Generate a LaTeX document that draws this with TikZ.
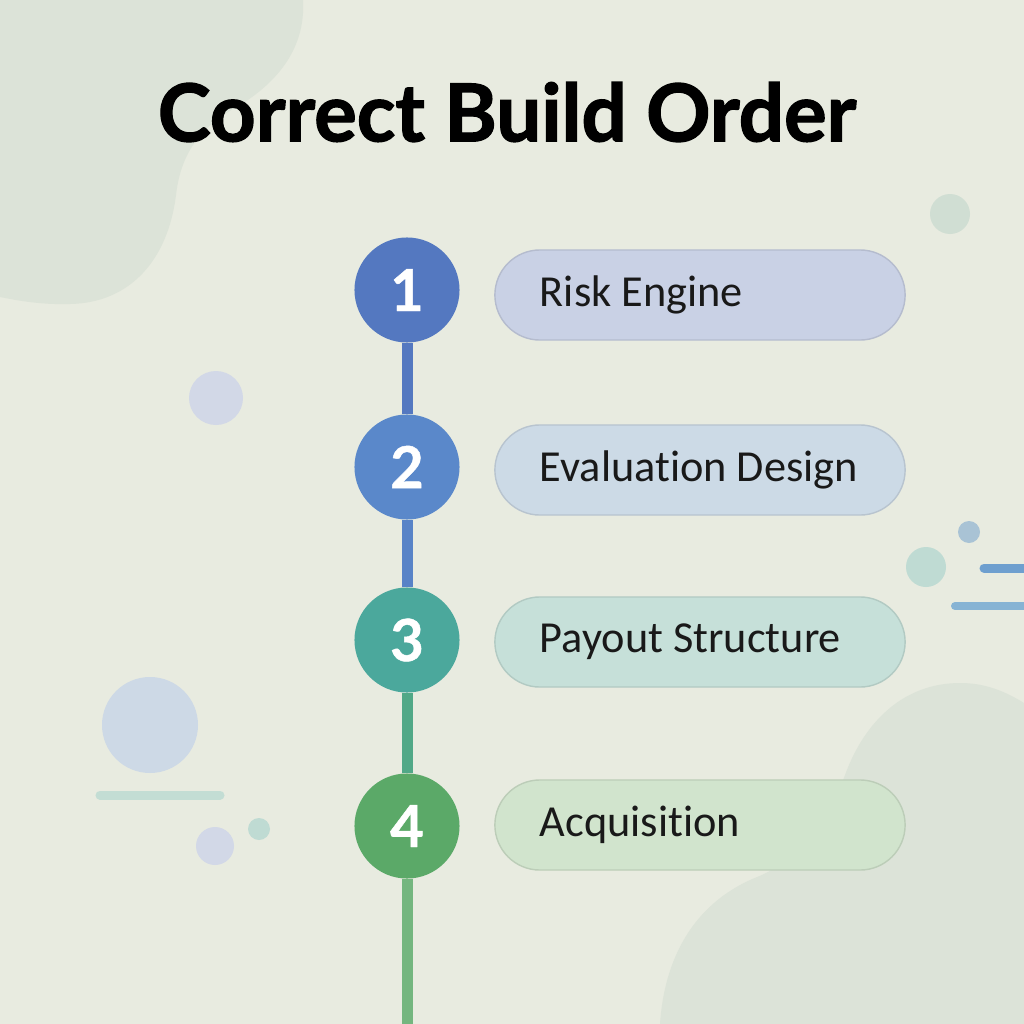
\documentclass[tikz,border=0pt]{standalone}
\usepackage{fontspec}
\setmainfont{Carlito}[Ligatures={NoCommon}]
\newfontfamily\titlefont{Lato}[BoldFeatures={FakeBold=1.6}]
\newfontfamily\numfont{Lato}[BoldFeatures={FakeBold=0.8}]
\usepackage{xcolor}
\usepackage{tikz}
\usetikzlibrary{calc}

\definecolor{paper}{HTML}{E8EBE0}
\definecolor{blob}{HTML}{DCE3D8}
\definecolor{stepA}{HTML}{5478C0}
\definecolor{stepB}{HTML}{5A88CA}
\definecolor{stepC}{HTML}{4BA89C}
\definecolor{stepD}{HTML}{5BA968}
\definecolor{pillA}{HTML}{C9D1E5}
\definecolor{pillB}{HTML}{CCDAE6}
\definecolor{pillC}{HTML}{C6E0D9}
\definecolor{pillD}{HTML}{D1E4CD}
\definecolor{dotGreen}{HTML}{D0DED3}
\definecolor{dotBlue}{HTML}{CDD9E6}
\definecolor{dotLilac}{HTML}{D2D8E7}
\definecolor{dotTeal}{HTML}{BFDBD3}
\definecolor{dotSteel}{HTML}{A9C3D5}
\definecolor{barBlue}{HTML}{6E9FCF}
\definecolor{barSky}{HTML}{86B3D4}

\begin{document}
\begin{tikzpicture}[x=0.01cm, y=-0.01cm,
  stepdot/.style={circle, fill=#1, minimum size=1.05cm, inner sep=0pt,
    text=white, font=\numfont\fontsize{16.5}{18}\selectfont\bfseries},
  pillbox/.style={fill=#1, draw=#1!90!black, line width=0.4pt,
    rounded corners=0.45cm, minimum height=0.9cm, text width=3.2cm,
    inner xsep=0.45cm, align=left, text=black!90,
    execute at begin node={\spaceskip=0pt\xspaceskip=0pt\hyphenpenalty=10000\relax},
    font=\fontsize{12.6}{14}\selectfont},
  stem/.style={line width=0.11cm},
  bar/.style={line width=0.09cm, line cap=round}]
  \useasboundingbox (0,0) rectangle (1024,1024);
  \fill[paper] (0,0) rectangle (1024,1024);

  % soft shapes behind
  \fill[blob] (0,0) -- (303,0) .. controls (306,50) and (275,85) .. (235,108)
    .. controls (195,130) and (180,160) .. (176,195)
    .. controls (168,260) and (130,303) .. (70,304)
    .. controls (40,305) and (15,300) .. (0,297) -- cycle;
  \fill[blob] (1024,703) .. controls (1000,688) and (980,683) .. (960,683)
    .. controls (905,683) and (865,720) .. (845,775)
    .. controls (830,815) and (800,860) .. (757,877)
    .. controls (700,900) and (665,950) .. (660,1024) -- (1024,1024) -- cycle;

  % dots and dashes
  \fill[dotGreen] (950,214) circle (20);
  \fill[dotLilac] (216,398) circle (27);
  \fill[dotBlue] (150,725) circle (48);
  \draw[bar, dotTeal!90!paper] (100,795) -- (220,795);
  \fill[dotLilac] (215,846) circle (19);
  \fill[dotTeal] (259,829) circle (11);
  \fill[dotSteel] (969,532) circle (11);
  \fill[dotTeal] (926,567) circle (20);
  \draw[bar, barBlue] (984,568) -- (1040,568);
  \draw[bar, line width=0.08cm, barSky] (955,606) -- (1040,606);

  % title
  \node[font=\titlefont\fontsize{22.7}{27}\selectfont\bfseries] (title) at (507,112) {Correct Build Order};

  % steps
  \node[stepdot=stepA] (n1) at (407,290) {1};
  \node[stepdot=stepB] (n2) at (407,467) {2};
  \node[stepdot=stepC] (n3) at (407,640) {3};
  \node[stepdot=stepD] (n4) at (407,826) {4};

  \node[pillbox=pillA] (p1) at (700,295) {Risk Engine};
  \node[pillbox=pillB] (p2) at (700,470) {Evaluation Design};
  \node[pillbox=pillC] (p3) at (700,642) {Payout Structure};
  \node[pillbox=pillD] (p4) at (700,825) {Acquisition};

  \coordinate (tail) at (407,1030);
  \draw[stem, stepA] (n1.south) -- (n2.north);
  \draw[stem, stepB!70!stepA] (n2.south) -- (n3.north);
  \draw[stem, stepC!60!stepD] (n3.south) -- (n4.north);
  \draw[stem, stepD!85!white] (n4.south) -- (tail);
\end{tikzpicture}
\end{document}
